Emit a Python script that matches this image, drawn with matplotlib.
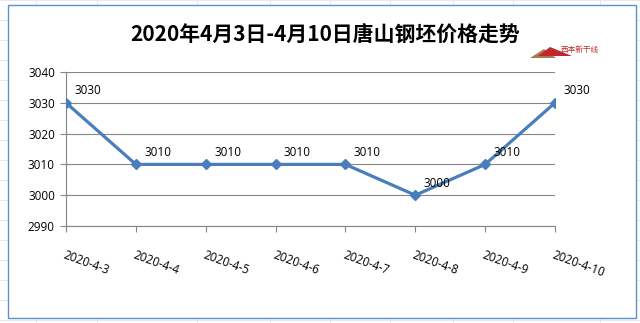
import matplotlib
matplotlib.use('Agg')
import matplotlib.pyplot as plt
from matplotlib.patches import Rectangle, Polygon

# data
dates = ['2020-4-3', '2020-4-4', '2020-4-5', '2020-4-6',
         '2020-4-7', '2020-4-8', '2020-4-9', '2020-4-10']
prices = [3030, 3010, 3010, 3010, 3010, 3000, 3010, 3030]
yticks = [2990, 3000, 3010, 3020, 3030, 3040]
title = '2020年4月3日-4月10日唐山钢坯价格走势'

plt.rcParams['font.family'] = ['Open Sans', 'Noto Sans CJK SC', 'DejaVu Sans']

fig = plt.figure(figsize=(6.4, 3.23), dpi=100)
fig.patch.set_facecolor('white')

# spreadsheet cell lines behind the chart
for yy in range(0, 323, 20):
    fig.add_artist(plt.Line2D([0, 1], [1 - yy / 323, 1 - yy / 323], color='#e4e4e4', lw=0.6, zorder=0))
for xx in [36, 97, 197, 270, 330, 390, 453, 513, 600]:
    fig.add_artist(plt.Line2D([xx / 640, xx / 640], [0, 1], color='#e4e4e4', lw=0.6, zorder=0))

# chart frame
fig.add_artist(Rectangle((8 / 640, 5 / 323), 628 / 640, 313 / 323, transform=fig.transFigure,
                         facecolor='white', edgecolor='#5b8fd0', lw=1.0, zorder=0.5))

ax = fig.add_axes([66 / 640, 1 - 226 / 323, 489 / 640, 154 / 323])
ax.set_zorder(2)
ax.patch.set_alpha(0)
x = list(range(len(dates)))
ax.plot(x, prices, color='#4a7ebb', lw=2.3, marker='D', markersize=5, zorder=3)
for xi, v in zip(x, prices):
    ax.annotate(str(v), (xi, v), xytext=(6, 4), textcoords='offset points',
                ha='left', va='bottom', fontsize=8.5, color='black')

ax.set_xlim(0, len(dates) - 1)
ax.set_ylim(2990, 3040)
ax.set_yticks(yticks)
ax.set_xticks(x)
ax.set_xticklabels(dates, rotation=-20, ha='left', va='top', rotation_mode='anchor', fontsize=8.5)
ax.tick_params(axis='y', labelsize=8.5, length=4, color='#868686', pad=4)
ax.tick_params(axis='x', length=4, color='#868686', pad=12)
ax.grid(axis='y', color='#868686', lw=0.8)
ax.set_axisbelow(True)
for s in ['top', 'right']:
    ax.spines[s].set_visible(False)
for s in ['left', 'bottom']:
    ax.spines[s].set_color('#868686')
    ax.spines[s].set_linewidth(0.8)

fig.text(0.508, 1 - 35 / 323, title, ha='center', va='center', fontsize=15, fontweight='bold',
         family=['Noto Sans CJK SC', 'DejaVu Sans'])

# small logo at top right
fig.add_artist(Polygon([(530 / 640, 1 - 58 / 323), (544 / 640, 1 - 49 / 323), (556 / 640, 1 - 58 / 323)],
                       closed=True, facecolor='#a87c4f', edgecolor='none', transform=fig.transFigure))
fig.add_artist(Polygon([(538 / 640, 1 - 56 / 323), (550 / 640, 1 - 47 / 323), (572 / 640, 1 - 56 / 323)],
                       closed=True, facecolor='#c0282d', edgecolor='none', transform=fig.transFigure))
fig.text(561 / 640, 1 - 50 / 323, '西本新干线', ha='left', va='center', fontsize=5.5, color='#c0282d',
         family=['Noto Sans CJK SC', 'DejaVu Sans'])

fig.savefig('out.png', dpi=100)
